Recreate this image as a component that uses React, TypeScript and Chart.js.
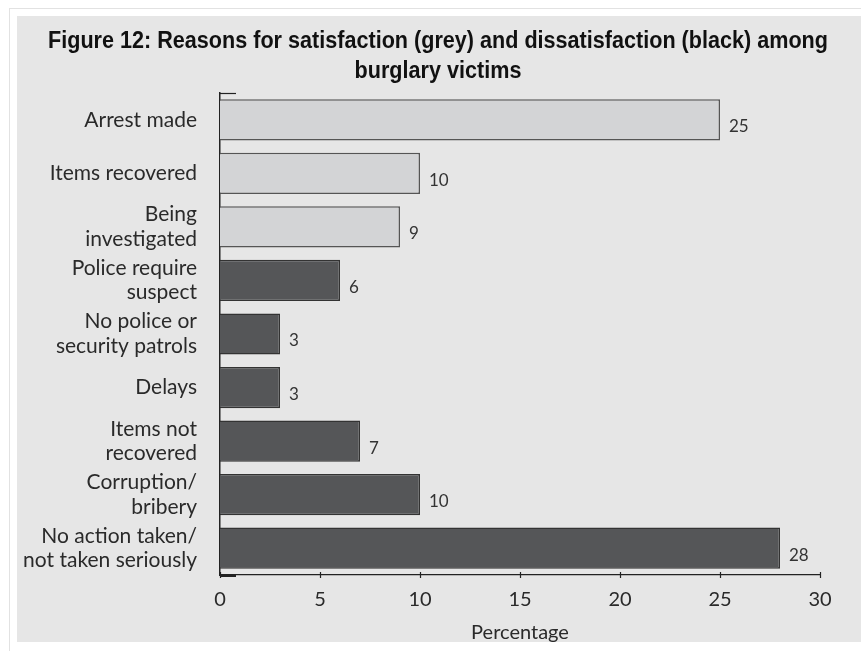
import React, { useEffect, useRef } from "react";
import { Chart, registerables } from "chart.js";

Chart.register(...registerables);

const categories: (string | string[])[] = [
  "Arrest made",
  "Items recovered",
  ["Being", "investigated"],
  ["Police require", "suspect"],
  ["No police or", "security patrols"],
  "Delays",
  ["Items not", "recovered"],
  ["Corruption/", "bribery"],
  ["No action taken/", "not taken seriously"],
];
const values: number[] = [25, 10, 9, 6, 3, 3, 7, 10, 28];
const groups: string[] = ["sat", "sat", "sat", "dis", "dis", "dis", "dis", "dis", "dis"];
const xTicks: number[] = [0, 5, 10, 15, 20, 25, 30];
const titleLines: string[] = [
  "Figure 12: Reasons for satisfaction (grey) and dissatisfaction (black) among",
  "burglary victims",
];
const xTitle = "Percentage";

const LABEL_FONT = "Lato, 'Open Sans', 'DejaVu Sans', sans-serif";
const TITLE_FONT = "'Liberation Sans', Arial, sans-serif";

const titlePlugin = {
  id: "condensedTitle",
  afterDraw(chart: any) {
    const ctx = chart.ctx;
    const cx = 421;
    const targetWidth = 780;
    ctx.save();
    ctx.font = `bold 23px ${TITLE_FONT}`;
    ctx.fillStyle = "#111";
    ctx.textAlign = "center";
    ctx.textBaseline = "alphabetic";
    const w = ctx.measureText(titleLines[0]).width;
    const sx = targetWidth / w;
    titleLines.forEach((line, i) => {
      ctx.save();
      ctx.translate(cx, 32 + i * 30);
      ctx.scale(sx, 1);
      ctx.fillText(line, 0, 0);
      ctx.restore();
    });
    ctx.restore();
  },
};

const decorPlugin = {
  id: "decor",
  afterDatasetsDraw(chart: any) {
    const ctx = chart.ctx;
    const meta = chart.getDatasetMeta(0);
    ctx.save();
    ctx.font = `17px ${LABEL_FONT}`;
    ctx.fillStyle = "#333";
    ctx.textBaseline = "middle";
    ctx.textAlign = "left";
    meta.data.forEach((bar: any, i: number) => {
      ctx.fillText(String(values[i]), bar.x + 9, bar.y + 7);
    });
    ctx.restore();
  },
  afterDraw(chart: any) {
    const ctx = chart.ctx;
    const xs = chart.scales.x;
    const area = chart.chartArea;
    ctx.save();
    ctx.strokeStyle = "#222";
    ctx.lineWidth = 1.2;
    xTicks.forEach((t) => {
      const px = Math.round(xs.getPixelForValue(t)) + 0.5;
      ctx.beginPath();
      ctx.moveTo(px, area.bottom - 3);
      ctx.lineTo(px, area.bottom + 3);
      ctx.stroke();
    });
    ctx.beginPath();
    ctx.moveTo(area.left, area.top + 0.5);
    ctx.lineTo(area.left + 16, area.top + 0.5);
    ctx.stroke();
    ctx.lineWidth = 2;
    ctx.beginPath();
    ctx.moveTo(area.left, area.bottom + 1);
    ctx.lineTo(area.left + 16, area.bottom + 1);
    ctx.stroke();
    ctx.restore();
  },
};

export default function App() {
  const ref = useRef<HTMLCanvasElement>(null);
  useEffect(() => {
    if (!ref.current) return;
    const chart = new Chart(ref.current, {
      type: "bar",
      data: {
        labels: categories,
        datasets: [
          {
            data: values,
            backgroundColor: groups.map((g) => (g === "sat" ? "#d3d4d6" : "#555658")),
            borderColor: groups.map((g) => (g === "sat" ? "#555" : "#333")),
            borderWidth: 1.5,
            borderSkipped: "start",
            barPercentage: 0.77,
            categoryPercentage: 1,
          },
        ],
      },
      options: {
        indexAxis: "y",
        animation: false,
        responsive: false,
        devicePixelRatio: 1,
        layout: { padding: { left: 0, right: 41, top: 77, bottom: 0 } },
        plugins: {
          legend: { display: false },
          tooltip: { enabled: false },
          title: { display: false },
        },
        scales: {
          y: {
            grid: { display: false, drawTicks: false },
            border: { display: true, color: "#222", width: 1.5 },
            ticks: {
              color: "#2a2a2a",
              padding: 23,
              font: { family: LABEL_FONT, size: 21, lineHeight: 1.17 },
            },
            afterFit(scale: any) {
              scale.width = 203;
            },
          },
          x: {
            min: 0,
            max: 30,
            grid: { display: false, drawTicks: false },
            border: { display: true, color: "#222", width: 1.2 },
            afterBuildTicks(scale: any) {
              scale.ticks = xTicks.map((v) => ({ value: v }));
            },
            ticks: {
              color: "#2a2a2a",
              padding: 13,
              maxRotation: 0,
              font: { family: LABEL_FONT, size: 20 },
            },
            title: {
              display: true,
              text: xTitle,
              color: "#2a2a2a",
              font: { family: LABEL_FONT, size: 20, lineHeight: 0.9 },
              padding: { top: 0, bottom: 0 },
            },
            afterFit(scale: any) {
              scale.height = 67;
            },
          },
        },
      },
      plugins: [decorPlugin, titlePlugin],
    } as any);
    return () => chart.destroy();
  }, []);

  return (
    <div style={{ position: "absolute", left: 0, top: 0, width: 861, height: 651, background: "#fff" }}>
      <div
        style={{
          position: "absolute",
          left: 9,
          top: 8,
          width: 870,
          height: 660,
          borderLeft: "1px solid #e2e2e2",
          borderTop: "1px solid #e2e2e2",
        }}
      />
      <div style={{ position: "absolute", left: 17, top: 16, width: 844, height: 626, background: "#e6e6e6" }}>
        <canvas ref={ref} width={844} height={626} style={{ display: "block" }} />
      </div>
    </div>
  );
}
